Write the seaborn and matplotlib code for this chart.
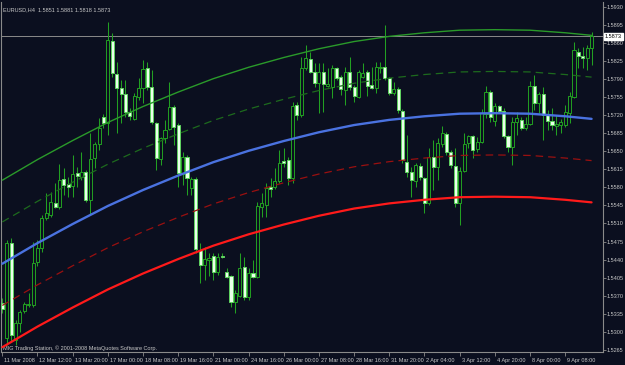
import numpy as np
import pandas as pd
import seaborn as sns
import matplotlib.pyplot as plt
from matplotlib.transforms import ScaledTranslation, blended_transform_factory

# EURUSD H4 bars, 11 Mar 2008 - 9 Apr 2008
opens = [1.5356, 1.5288, 1.5472, 1.5284, 1.5317, 1.5340, 1.5352, 1.5352, 1.5435, 1.5462,
         1.5521, 1.5526, 1.5550, 1.5542, 1.5596, 1.5587, 1.5583, 1.5608, 1.5600, 1.5610,
         1.5556, 1.5637, 1.5664, 1.5717, 1.5705, 1.5864, 1.5800, 1.5773, 1.5761, 1.5726,
         1.5713, 1.5755, 1.5773, 1.5812, 1.5775, 1.5705, 1.5635, 1.5676, 1.5693, 1.5736,
         1.5701, 1.5606, 1.5639, 1.5579, 1.5596, 1.5459, 1.5429, 1.5439, 1.5447, 1.5416,
         1.5447, 1.5416, 1.5408, 1.5358, 1.5369, 1.5426, 1.5367, 1.5414, 1.5406, 1.5542,
         1.5546, 1.5581, 1.5581, 1.5592, 1.5631, 1.5633, 1.5598, 1.5740, 1.5720, 1.5812,
         1.5829, 1.5804, 1.5783, 1.5804, 1.5777, 1.5775, 1.5812, 1.5794, 1.5769, 1.5804,
         1.5775, 1.5755, 1.5794, 1.5804, 1.5779, 1.5773, 1.5812, 1.5814, 1.5792, 1.5763,
         1.5771, 1.5728, 1.5629, 1.5610, 1.5592, 1.5622, 1.5598, 1.5550, 1.5639, 1.5620,
         1.5664, 1.5684, 1.5649, 1.5622, 1.5550, 1.5612, 1.5666, 1.5680, 1.5655, 1.5668,
         1.5723, 1.5765, 1.5709, 1.5738, 1.5728, 1.5680, 1.5658, 1.5707, 1.5711, 1.5695,
         1.5703, 1.5777, 1.5744, 1.5761, 1.5720, 1.5709, 1.5699, 1.5701, 1.5701, 1.5724,
         1.5755, 1.5843, 1.5835, 1.5831, 1.5851]
highs = [1.5366, 1.5478, 1.5482, 1.5323, 1.5342, 1.5358, 1.5375, 1.5474, 1.5478, 1.5526,
         1.5569, 1.5571, 1.5589, 1.5625, 1.5618, 1.5600, 1.5643, 1.5620, 1.5649, 1.5614,
         1.5685, 1.5668, 1.5715, 1.5722, 1.5901, 1.5880, 1.5823, 1.5788, 1.5788, 1.5734,
         1.5763, 1.5792, 1.5827, 1.5823, 1.5808, 1.5707, 1.5678, 1.5711, 1.5785, 1.5740,
         1.5705, 1.5649, 1.5643, 1.5600, 1.5600, 1.5472, 1.5464, 1.5453, 1.5453, 1.5453,
         1.5453, 1.5424, 1.5410, 1.5381, 1.5453, 1.5445, 1.5424, 1.5439, 1.5552, 1.5569,
         1.5589, 1.5598, 1.5618, 1.5653, 1.5656, 1.5639, 1.5746, 1.5746, 1.5833, 1.5856,
         1.5843, 1.5821, 1.5821, 1.5821, 1.5812, 1.5818, 1.5814, 1.5798, 1.5814, 1.5833,
         1.5779, 1.5808, 1.5821, 1.5808, 1.5814, 1.5823, 1.5823, 1.5895, 1.5794, 1.5785,
         1.5775, 1.5732, 1.5682, 1.5620, 1.5627, 1.5627, 1.5600, 1.5656, 1.5672, 1.5676,
         1.5699, 1.5687, 1.5653, 1.5656, 1.5620, 1.5685, 1.5682, 1.5682, 1.5678, 1.5732,
         1.5777, 1.5769, 1.5744, 1.5740, 1.5734, 1.5682, 1.5717, 1.5726, 1.5717, 1.5717,
         1.5786, 1.5798, 1.5765, 1.5775, 1.5730, 1.5734, 1.5720, 1.5713, 1.5740, 1.5765,
         1.5862, 1.5850, 1.5852, 1.5856, 1.5881]
lows = [1.5336, 1.5274, 1.5280, 1.5274, 1.5299, 1.5336, 1.5348, 1.5348, 1.5428, 1.5455,
        1.5517, 1.5523, 1.5540, 1.5538, 1.5565, 1.5561, 1.5561, 1.5581, 1.5594, 1.5552,
        1.5526, 1.5618, 1.5653, 1.5695, 1.5682, 1.5794, 1.5685, 1.5705, 1.5717, 1.5711,
        1.5711, 1.5750, 1.5744, 1.5769, 1.5703, 1.5614, 1.5624, 1.5666, 1.5691, 1.5662,
        1.5581, 1.5585, 1.5565, 1.5565, 1.5453, 1.5395, 1.5400, 1.5408, 1.5400, 1.5410,
        1.5443, 1.5404, 1.5348, 1.5336, 1.5367, 1.5362, 1.5362, 1.5404, 1.5404, 1.5523,
        1.5523, 1.5561, 1.5577, 1.5589, 1.5620, 1.5585, 1.5589, 1.5711, 1.5717, 1.5808,
        1.5802, 1.5775, 1.5724, 1.5726, 1.5775, 1.5754, 1.5788, 1.5759, 1.5740, 1.5769,
        1.5746, 1.5754, 1.5792, 1.5757, 1.5771, 1.5763, 1.5802, 1.5788, 1.5759, 1.5759,
        1.5724, 1.5627, 1.5600, 1.5561, 1.5581, 1.5594, 1.5530, 1.5546, 1.5575, 1.5594,
        1.5658, 1.5643, 1.5618, 1.5542, 1.5507, 1.5610, 1.5656, 1.5637, 1.5649, 1.5666,
        1.5715, 1.5707, 1.5699, 1.5726, 1.5676, 1.5649, 1.5624, 1.5682, 1.5691, 1.5691,
        1.5701, 1.5730, 1.5724, 1.5672, 1.5691, 1.5691, 1.5682, 1.5685, 1.5697, 1.5705,
        1.5754, 1.5812, 1.5812, 1.5808, 1.5818]
closes = [1.5344, 1.5472, 1.5294, 1.5317, 1.5338, 1.5354, 1.5354, 1.5433, 1.5462, 1.5521,
          1.5530, 1.5552, 1.5542, 1.5594, 1.5585, 1.5581, 1.5606, 1.5602, 1.5610, 1.5556,
          1.5635, 1.5664, 1.5695, 1.5705, 1.5866, 1.5802, 1.5773, 1.5761, 1.5726, 1.5719,
          1.5757, 1.5773, 1.5810, 1.5775, 1.5707, 1.5637, 1.5676, 1.5691, 1.5736, 1.5697,
          1.5608, 1.5639, 1.5598, 1.5596, 1.5460, 1.5429, 1.5441, 1.5443, 1.5416, 1.5445,
          1.5445, 1.5406, 1.5358, 1.5375, 1.5424, 1.5367, 1.5414, 1.5406, 1.5544, 1.5550,
          1.5579, 1.5577, 1.5592, 1.5627, 1.5627, 1.5598, 1.5738, 1.5720, 1.5812, 1.5831,
          1.5804, 1.5783, 1.5804, 1.5781, 1.5781, 1.5812, 1.5792, 1.5771, 1.5804, 1.5775,
          1.5757, 1.5804, 1.5802, 1.5777, 1.5773, 1.5814, 1.5814, 1.5792, 1.5763, 1.5771,
          1.5730, 1.5633, 1.5610, 1.5594, 1.5624, 1.5600, 1.5550, 1.5639, 1.5620, 1.5666,
          1.5685, 1.5649, 1.5624, 1.5550, 1.5612, 1.5664, 1.5680, 1.5653, 1.5668, 1.5724,
          1.5765, 1.5717, 1.5738, 1.5728, 1.5680, 1.5658, 1.5707, 1.5715, 1.5695, 1.5703,
          1.5777, 1.5744, 1.5761, 1.5720, 1.5709, 1.5701, 1.5703, 1.5707, 1.5726, 1.5757,
          1.5847, 1.5835, 1.5831, 1.5850, 1.5873]

# regression channel centre, read at every 8th bar and at the last bar
reg_bars = [0, 8, 16, 24, 32, 40, 48, 56, 64, 72, 80, 88, 96, 104, 112, 120, 128, 134]
reg_mid = [1.5432, 1.5472, 1.5509, 1.5544, 1.5575, 1.5603, 1.5629, 1.5651, 1.5670,
           1.5687, 1.5701, 1.5711, 1.5718, 1.5723, 1.5724, 1.5723, 1.5718, 1.5713]
outer_dev = 0.0162
inner_dev = 0.0081

time_labels = ["11 Mar 2008", "12 Mar 12:00", "13 Mar 20:00", "17 Mar 00:00", "18 Mar 08:00",
               "19 Mar 16:00", "21 Mar 00:00", "24 Mar 16:00", "26 Mar 00:00", "27 Mar 08:00",
               "28 Mar 16:00", "31 Mar 20:00", "2 Apr 04:00", "3 Apr 12:00", "4 Apr 20:00",
               "8 Apr 00:00", "9 Apr 08:00"]
label_step = 8  # one time label every 8 bars
price_ticks = [1.5265, 1.5300, 1.5335, 1.5370, 1.5405, 1.5440, 1.5475, 1.5510, 1.5545, 1.5580,
               1.5615, 1.5650, 1.5685, 1.5720, 1.5755, 1.5790, 1.5825, 1.5860, 1.5895, 1.5930]

bg = '#0b0f1f'
grn = '#22a022'
txt = '#c8c8c8'
fsize = 4.0

df = pd.DataFrame({'open': opens, 'high': highs, 'low': lows, 'close': closes})
df['bar'] = np.arange(len(df))

reg = pd.DataFrame({'bar': reg_bars, 'mid': reg_mid})
reg['up2'] = reg['mid'] + outer_dev
reg['up1'] = reg['mid'] + inner_dev
reg['dn1'] = reg['mid'] - inner_dev
reg['dn2'] = reg['mid'] - outer_dev

sns.set_style("dark", {"axes.facecolor": bg, "figure.facecolor": bg})
plt.rcParams['font.family'] = ['Liberation Sans', 'DejaVu Sans']

fig = plt.figure(figsize=(6.25, 3.65), dpi=100)
ax = fig.add_axes([1 / 625, 13 / 365, 602 / 625, 350 / 365])

# candles
up = df['close'] >= df['open']
ax.vlines(df['bar'], df['low'], df['high'], color=grn, lw=0.75, zorder=2)
body = (df['close'] - df['open']).abs().clip(lower=0.00008)
bottom = df[['open', 'close']].min(axis=1)
ax.bar(df['bar'][up], body[up], bottom=bottom[up], width=0.7,
       color=bg, edgecolor=grn, linewidth=0.7, zorder=3)
ax.bar(df['bar'][~up], body[~up], bottom=bottom[~up], width=0.7,
       color='#eaffea', edgecolor='#5fd35f', linewidth=0.7, zorder=3)

# regression channel
sns.lineplot(data=reg, x='bar', y='up2', color='#2a9a2a', lw=1.0, ax=ax, zorder=4)
sns.lineplot(data=reg, x='bar', y='up1', color='#1d6a1d', lw=0.9, ax=ax, zorder=4,
             linestyle=(0, (6, 4)))
sns.lineplot(data=reg, x='bar', y='mid', color='#4a72e0', lw=1.7, ax=ax, zorder=4)
sns.lineplot(data=reg, x='bar', y='dn1', color='#9a1010', lw=0.9, ax=ax, zorder=4,
             linestyle=(0, (6, 4)))
sns.lineplot(data=reg, x='bar', y='dn2', color='#ff1a1a', lw=1.6, ax=ax, zorder=4)

# bid line
last = closes[-1]
ax.axhline(last, color='#8a8a8a', lw=0.7, zorder=1)

ax.set_xlim(-0.3, 136.6)
ax.set_ylim(1.52607, 1.59397)
ax.set_xlabel("")
ax.set_ylabel("")

ax.yaxis.tick_right()
ax.set_yticks(price_ticks)
ax.set_yticklabels([f"{p:.4f}" for p in price_ticks])
ax.set_xticks(df['bar'][::label_step])
ax.set_xticklabels(time_labels)
ax.tick_params(axis='both', which='both', length=2, width=0.6, color='#8a8a8a',
               labelcolor=txt, labelsize=fsize, pad=0.8)
ax.tick_params(axis='y', right=True, left=False, labelright=True, labelleft=False)
ax.tick_params(axis='x', bottom=True, length=3, pad=1.2)
shift = ScaledTranslation(2 / 100, 0, fig.dpi_scale_trans)
for lab in ax.get_xticklabels():
    lab.set_horizontalalignment('left')
    lab.set_transform(lab.get_transform() + shift)

for s in ['left', 'bottom', 'right']:
    ax.spines[s].set_visible(True)
    ax.spines[s].set_color('#8a8a8a')
    ax.spines[s].set_linewidth(0.8)
ax.spines['top'].set_visible(False)

# current price box
trans = blended_transform_factory(ax.transAxes, ax.transData)
ax.text(1.003, last, f"{last:.4f}", transform=trans, fontsize=fsize, color='black',
        va='center', ha='left',
        bbox=dict(boxstyle='square,pad=0.15', fc='white', ec='white'))

ax.text(0.004, 0.985, "EURUSD,H4  1.5851 1.5881 1.5818 1.5873", transform=ax.transAxes,
        fontsize=fsize, color=txt, va='top', ha='left')
ax.text(0.004, 0.003, "MIG Trading Station, \u00a9 2001-2008 MetaQuotes Software Corp.",
        transform=ax.transAxes, fontsize=fsize, color=txt, va='bottom', ha='left')

fig.savefig("out.png", dpi=100, facecolor=bg)
